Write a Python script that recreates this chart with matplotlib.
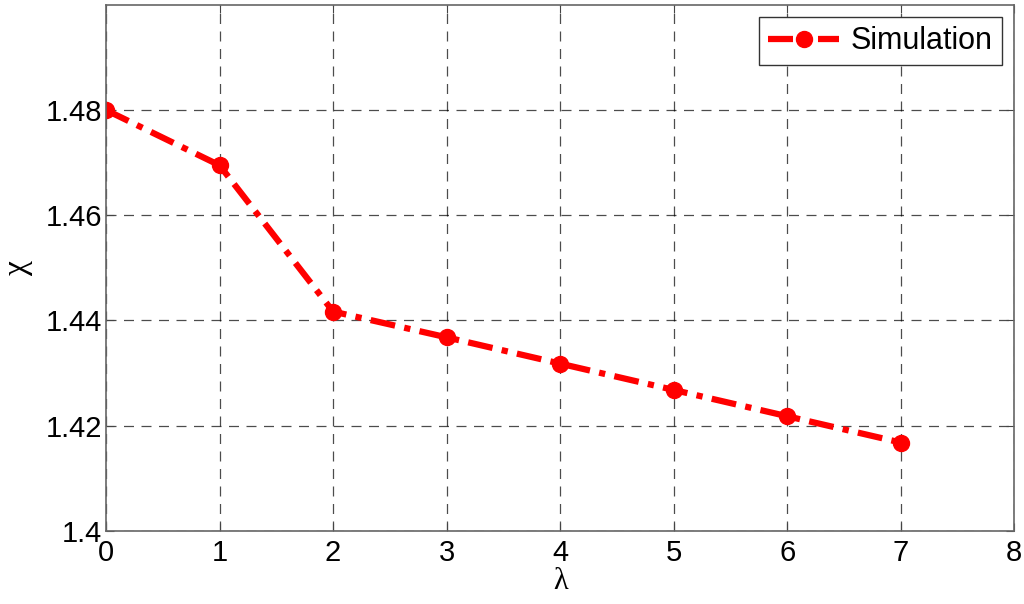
import matplotlib
matplotlib.use('Agg')
import matplotlib.pyplot as plt
import numpy as np

# data
lam = [0, 1, 2, 3, 4, 5, 6, 7]
chi = [1.48, 1.4695, 1.4417, 1.4368, 1.4318, 1.4268, 1.4218, 1.4168]
x_ticks = [0, 1, 2, 3, 4, 5, 6, 7, 8]
y_ticks = [1.4, 1.42, 1.44, 1.46, 1.48]
y_labels = ['1.4', '1.42', '1.44', '1.46', '1.48']

plt.rcParams['font.family'] = ['Liberation Sans', 'DejaVu Sans']

fig = plt.figure(figsize=(10.24, 6.04), dpi=100)
ax = fig.add_axes([0.1035, 0.121, 0.887, 0.871])

ax.plot(lam, chi, color='red', linestyle='-.', linewidth=4.5,
        marker='o', markersize=11.5, label='Simulation', dashes=(4, 1.5, 1, 1.5))

ax.set_xlim(0, 8)
ax.set_ylim(1.4, 1.5)
ax.set_xticks(x_ticks)
ax.set_yticks(y_ticks)
ax.set_yticklabels(y_labels)
ax.tick_params(direction='in', top=True, right=True, labelsize=21, length=6,
               color='#444444', pad=3)
ax.tick_params(axis='x', pad=6)
ax.grid(True, color='black', linestyle=(0, (8, 6)), linewidth=0.9, alpha=0.7)
for s in ax.spines.values():
    s.set_color('#666666')
    s.set_linewidth(1.2)

ax.set_xlabel('λ', fontsize=22, labelpad=0, family=['Liberation Serif', 'DejaVu Serif'])
ax.set_ylabel('χ', fontsize=24, labelpad=9, family=['Liberation Serif', 'DejaVu Serif'])

leg = ax.legend(loc='upper right', fontsize=22, fancybox=False, framealpha=1,
                edgecolor='#333333', borderpad=0.3, handlelength=2.3,
                handletextpad=0.4, borderaxespad=0.4)
leg.get_frame().set_linewidth(1.0)

fig.savefig('out.png', dpi=100)
